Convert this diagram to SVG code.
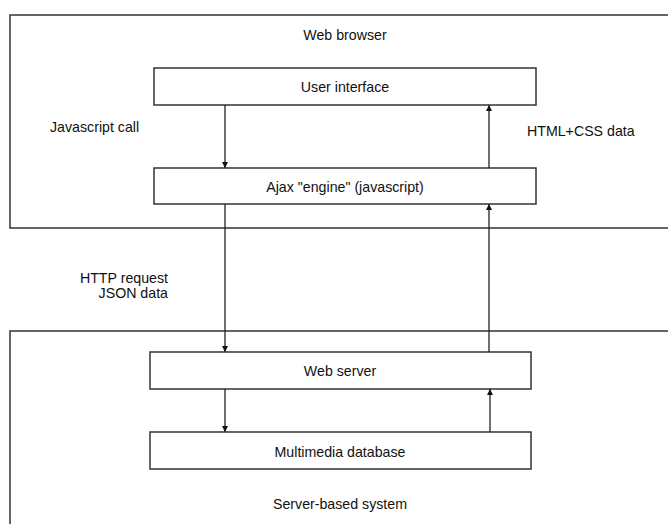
<svg xmlns="http://www.w3.org/2000/svg" width="668" height="524" viewBox="0 0 668 524">
<style>
.frame{fill:none;stroke:#333;stroke-width:1.5}
.box{fill:#fff;stroke:#333;stroke-width:1.5}
.t{font-family:"Liberation Sans",Arial,sans-serif;font-size:14.2px;fill:#111}
.c{text-anchor:middle}
.e{text-anchor:end}
.conn{stroke:#222;stroke-width:1.3;fill:none;marker-end:url(#ah)}
</style>
<defs>
<marker id="ah" viewBox="0 0 8 8" refX="8" refY="4" markerWidth="6" markerHeight="6" markerUnits="userSpaceOnUse" orient="auto">
<path d="M0,0 L8,4 L0,8 z" fill="#111"/>
</marker>
</defs>
<rect width="668" height="524" fill="#fff"/>
<g id="browser">
<rect class="frame" x="10" y="15" width="680" height="213"/>
<text class="t c" x="345" y="40">Web browser</text>
</g>
<g id="server-system">
<rect class="frame" x="10" y="331" width="680" height="210"/>
<text class="t c" x="340" y="509">Server-based system</text>
</g>
<g id="user-interface">
<rect class="box" x="154" y="68" width="382" height="37"/>
<text class="t c" x="345" y="92">User interface</text>
</g>
<g id="ajax-engine">
<rect class="box" x="154" y="168" width="382" height="36"/>
<text class="t c" x="345" y="192">Ajax "engine" (javascript)</text>
</g>
<g id="web-server">
<rect class="box" x="150" y="352" width="381" height="37"/>
<text class="t c" x="340" y="376">Web server</text>
</g>
<g id="database">
<rect class="box" x="150" y="432" width="381" height="37"/>
<text class="t c" x="340" y="457">Multimedia database</text>
</g>
<g id="connectors">
<line class="conn" x1="225" y1="105" x2="225" y2="168"/>
<line class="conn" x1="489" y1="168" x2="489" y2="105"/>
<line class="conn" x1="225" y1="204" x2="225" y2="352"/>
<line class="conn" x1="489" y1="352" x2="489" y2="204"/>
<line class="conn" x1="225" y1="389" x2="225" y2="432"/>
<line class="conn" x1="490" y1="432" x2="490" y2="389"/>
<text class="t" x="50" y="132">Javascript call</text>
<text class="t" x="527" y="136">HTML+CSS data</text>
<text class="t e" x="168" y="283">HTTP request</text>
<text class="t e" x="168" y="298">JSON data</text>
</g>
</svg>
